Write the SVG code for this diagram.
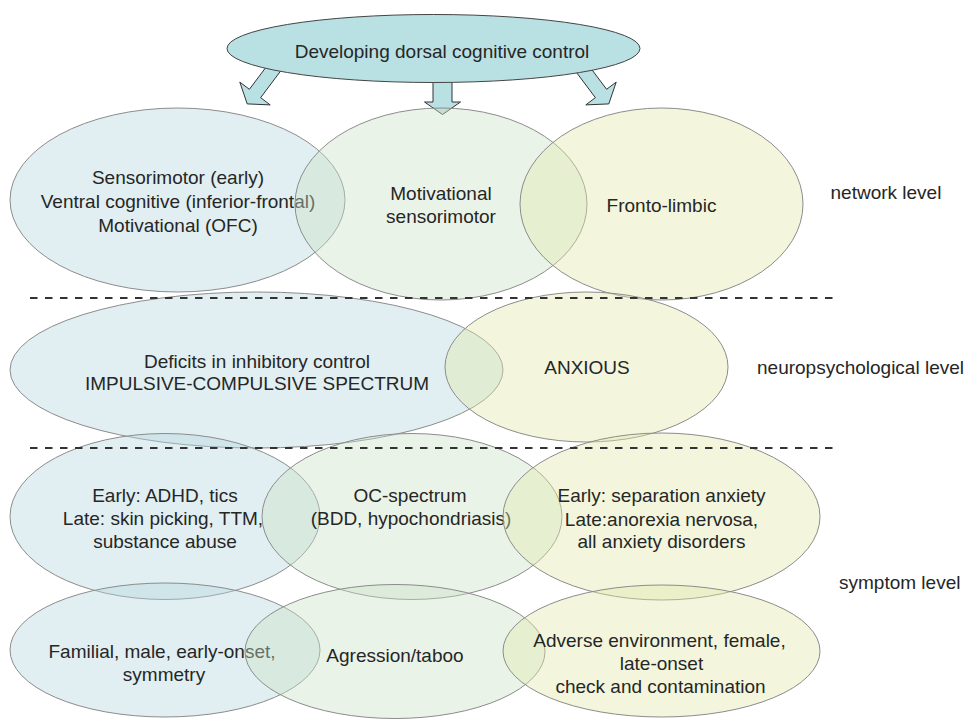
<svg xmlns="http://www.w3.org/2000/svg" width="971" height="720" viewBox="0 0 971 720">
<style>
text{font-family:"Liberation Sans",Arial,sans-serif;font-size:19px;fill:#262626;text-anchor:middle}
.lvl{text-anchor:start}
.e{stroke:#8c8c8c;stroke-width:1;fill-opacity:0.4}
.b{fill:#b4d7de}
.g{fill:#cae1c5}
.y{fill:#e1e8aa}
.arr{fill:#b9e0e3;stroke:#333;stroke-width:1}
.dash{stroke:#333;stroke-width:2;stroke-dasharray:7.5 7.5;fill:none}
</style>
<rect width="971" height="720" fill="#fff"/>
<g id="connectors">
<polygon class="arr" points="273.4,57.3 249.4,89.3 239.8,82.1 247.2,103.9 270.2,104.9 260.6,97.7 284.6,65.7"/>
<polygon class="arr" points="582.6,57.3 606.6,89.3 616.2,82.1 608.8,103.9 585.8,104.9 595.4,97.7 571.4,65.7"/>
<polygon class="arr" points="433,70 433,102 424.5,102 442.5,114.5 460.5,102 452,102 452,70"/>
</g>
<g id="top">
<ellipse cx="433.5" cy="48.5" rx="206.5" ry="34" fill="#b9e0e3" stroke="#444" stroke-width="1"/>
<text x="442" y="58">Developing dorsal cognitive control</text>
</g>
<g id="net-left">
<ellipse class="e b" cx="177.5" cy="200" rx="167.5" ry="92"/>
<text x="178" y="184">Sensorimotor (early)</text>
<text x="178" y="208">Ventral cognitive (inferior-frontal)</text>
<text x="178" y="231.5">Motivational (OFC)</text>
</g>
<g id="net-mid">
<ellipse class="e g" cx="441" cy="204" rx="146" ry="96"/>
<text x="441" y="200">Motivational</text>
<text x="441" y="223">sensorimotor</text>
</g>
<g id="net-right">
<ellipse class="e y" cx="661.5" cy="204" rx="141.5" ry="96"/>
<text x="661.5" y="211.5">Fronto-limbic</text>
</g>
<g id="neuro-left">
<ellipse class="e b" cx="256.5" cy="370" rx="246.5" ry="78"/>
<text x="257" y="368">Deficits in inhibitory control</text>
<text x="257" y="390">IMPULSIVE-COMPULSIVE SPECTRUM</text>
</g>
<g id="neuro-right">
<ellipse class="e y" cx="586.5" cy="367" rx="141.5" ry="75"/>
<text x="587" y="374">ANXIOUS</text>
</g>
<g id="sym1-left">
<ellipse class="e b" cx="165" cy="516.5" rx="155" ry="83"/>
<text x="165" y="502">Early: ADHD, tics</text>
<text x="163" y="525">Late: skin picking, TTM,</text>
<text x="165" y="548">substance abuse</text>
</g>
<g id="sym1-mid">
<ellipse class="e g" cx="412" cy="516.5" rx="150" ry="83"/>
<text x="410" y="502">OC-spectrum</text>
<text x="411" y="525">(BDD, hypochondriasis)</text>
</g>
<g id="sym1-right">
<ellipse class="e y" cx="661.5" cy="516.5" rx="158.5" ry="83.5"/>
<text x="661.5" y="502">Early: separation anxiety</text>
<text x="661.5" y="525.5">Late:anorexia nervosa,</text>
<text x="661.5" y="548">all anxiety disorders</text>
</g>
<g id="sym2-left">
<ellipse class="e b" cx="165" cy="650" rx="155" ry="67"/>
<text x="162" y="658">Familial, male, early-onset,</text>
<text x="164" y="681">symmetry</text>
</g>
<g id="sym2-mid">
<ellipse class="e g" cx="395" cy="651.5" rx="150" ry="67"/>
<text x="395" y="662">Agression/taboo</text>
</g>
<g id="sym2-right">
<ellipse class="e y" cx="661.5" cy="651" rx="158.5" ry="66"/>
<text x="659.5" y="647">Adverse environment, female,</text>
<text x="661.5" y="670">late-onset</text>
<text x="660.5" y="693">check and contamination</text>
</g>
<g id="dividers">
<line class="dash" x1="30" y1="298" x2="833" y2="298"/>
<line class="dash" x1="30" y1="448" x2="833" y2="448"/>
</g>
<g id="levels">
<text class="lvl" x="830.5" y="199">network level</text>
<text class="lvl" x="757" y="374">neuropsychological level</text>
<text class="lvl" x="839" y="589">symptom level</text>
</g>
</svg>
